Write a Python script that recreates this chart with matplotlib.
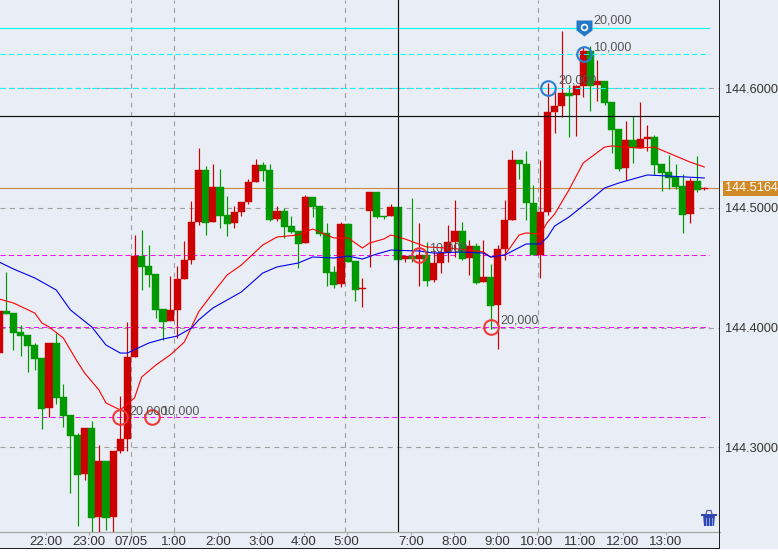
import numpy as np
import matplotlib
matplotlib.use('Agg')
import matplotlib.pyplot as plt
from matplotlib.patches import Rectangle, Polygon
from matplotlib.lines import Line2D

plt.rcParams['font.family'] = ['Liberation Sans', 'DejaVu Sans']

BASE = 144.0

# prices are stored minus BASE
opens = [.3787, .4138, .4122, .3963, .3938, .3854, .3746, .3328, .3871, .3420,
         .3270, .3103, .2777, .3161, .2418, .2886, .2418, .2969, .3069, .3754,
         .4597, .4514, .4447, .4155, .4055, .4147, .4405, .4564, .4881, .5315,
         .4881, .5174, .4940, .4873, .4965, .5048, .5215, .5357, .5315, .4906,
         .4973, .4848, .4806, .4706, .5090, .5015, .4790, .4464, .4364, .4865,
         .4556, .4325, .4973, .5132, .4931, .4931, .5007, .4572, .4597, .4572,
         .4606, .4397, .4539, .4622, .4714, .4806, .4581, .4681, .4380, .4422,
         .4188, .4656, .4898, .5399, .5366, .5040, .4606, .4965, .5800, .5850,
         .5958, .5942, .6017, .6309, .6025, .6059, .5883, .5658, .5332, .5566,
         .5499, .5574, .5591, .5366, .5299, .5257, .5182, .4948, .5224, .5160]
closes = [.4138, .4113, .3954, .3929, .3846, .3737, .3320, .3871, .3412, .3261,
          .3094, .2769, .3161, .2410, .2886, .2410, .2969, .3069, .3754, .4597,
          .4506, .4439, .4147, .4046, .4147, .4405, .4564, .4881, .5315, .4873,
          .5174, .4931, .4865, .4965, .5048, .5215, .5357, .5307, .4898, .4973,
          .4840, .4798, .4698, .5090, .5007, .4781, .4455, .4355, .4865, .4547,
          .4314, .4330, .5132, .4923, .4923, .5007, .4564, .4597, .4572, .4606,
          .4389, .4539, .4622, .4714, .4806, .4572, .4681, .4372, .4422, .4180,
          .4656, .4898, .5399, .5366, .5040, .4606, .4965, .5800, .5850, .5958,
          .5933, .6017, .6309, .6017, .6059, .5875, .5650, .5324, .5566, .5499,
          .5574, .5591, .5357, .5290, .5249, .5174, .4940, .5224, .5149, .5164]
highs = [.4138, .4464, .4122, .4021, .3938, .3871, .3746, .3871, .3954, .3529,
         .3270, .3119, .3161, .3220, .3019, .2886, .2969, .3428, .4046, .4773,
         .4815, .4689, .4447, .4155, .4430, .4514, .4723, .5057, .5499, .5349,
         .5366, .5324, .5098, .5015, .5048, .5240, .5407, .5382, .5366, .5015,
         .4998, .4931, .4806, .5107, .5090, .5015, .4873, .4514, .4881, .4873,
         .4556, .4414, .5132, .5132, .4931, .5032, .5007, .4597, .5082, .4873,
         .4714, .4647, .4681, .4856, .5065, .4881, .4731, .4706, .4731, .4531,
         .4689, .5065, .5483, .5399, .5474, .5190, .5399, .6042, .6000, .6476,
         .6025, .6025, .6343, .6351, .6234, .6059, .5883, .5658, .5725, .5766,
         .5883, .5691, .5608, .5366, .5441, .5366, .5282, .5249, .5432, .5174]
lows = [.3787, .4113, .3813, .3762, .3629, .3646, .3153, .3253, .3362, .3170,
        .2618, .2343, .2727, .2293, .2293, .2310, .2293, .2953, .2969, .3754,
        .4314, .4338, .4080, .3896, .4055, .3913, .4405, .4531, .4856, .4773,
        .4881, .4831, .4764, .4831, .4931, .5032, .5215, .5224, .4890, .4890,
        .4748, .4790, .4497, .4706, .4923, .4764, .4347, .4330, .4338, .4547,
        .4222, .4171, .4506, .4915, .4906, .4931, .4531, .4547, .4547, .4347,
        .4347, .4380, .4455, .4547, .4589, .4564, .4439, .4364, .4380, .3988,
        .3821, .4564, .4898, .5240, .4898, .4606, .4414, .4940, .5624, .5758,
        .5591, .5599, .5925, .5808, .5892, .5858, .5457, .5307, .5232, .5374,
        .5499, .5474, .5274, .5140, .5157, .5157, .4790, .4873, .5132, .5149]

red_ma_idx = [0, 2, 5, 6, 7, 9, 11, 12, 14, 15, 17, 19, 20, 22, 24, 26, 27, 28,
              30, 32, 34, 37, 39, 42, 44, 47, 49, 51, 52, 54, 55, 57, 60, 63, 66,
              68, 69, 71, 73, 74, 76, 77, 78, 80, 82, 85, 86, 90, 92, 94, 97, 99]
red_ma = [.4238, .4205, .4121, .4038, .4005, .3913, .3712, .3620, .3479, .3370,
          .3312, .3412, .3587, .3687, .3771, .3879, .4005, .4130, .4288, .4439,
          .4522, .4689, .4756, .4773, .4823, .4748, .4748, .4664, .4706, .4739,
          .4773, .4739, .4673, .4664, .4647, .4631, .4589, .4606, .4773, .4790,
          .4781, .4881, .4948, .5149, .5374, .5507, .5516, .5499, .5507, .5457,
          .5382, .5341]
blue_ma_idx = [0, 2, 5, 8, 10, 13, 15, 17, 18, 21, 23, 25, 27, 28, 30, 34, 37, 39,
               42, 44, 47, 49, 51, 53, 55, 59, 61, 65, 68, 69, 71, 74, 76, 77, 78,
               80, 83, 85, 87, 91, 94, 99]
blue_ma = [.4547, .4489, .4414, .4314, .4147, .4005, .3854, .3787, .3787, .3871,
           .3904, .3929, .3996, .4063, .4163, .4297, .4455, .4506, .4539, .4589,
           .4581, .4597, .4572, .4614, .4647, .4639, .4622, .4631, .4622, .4589,
           .4606, .4698, .4698, .4756, .4848, .4923, .5065, .5165, .5207, .5274,
           .5265, .5249]

tick_pos = [6.57, 12.54, 18.51, 24.54, 30.72, 36.76, 42.8, 48.8, 57.8, 63.86,
            69.9, 75.5, 81.55, 87.6, 93.6]
tick_labels = ['22:00', '23:00', '07/05', '1:00', '2:00', '3:00', '4:00', '5:00',
               '7:00', '8:00', '9:00', '10:00', '11:00', '12:00', '13:00']
grid_x = [18.51, 24.54, 48.6, 75.6]
price_ticks = [144.3, 144.4, 144.5, 144.6]
price_labels = ['144.3000', '144.4000', '144.5000', '144.6000']

last_price = 144.5164
cross_x, cross_y = 56.0, 144.5766
magenta_levels = [144.4606, 144.4005, 144.3253]
cyan_levels = [144.6284, 144.6000]
cyan_solid = 144.6501

# trades: candle index, price
red_trades = [(16.96, 144.3253), (21.45, 144.3253), (58.95, 144.4606), (69.05, 144.4005)]
blue_trades = [(77.05, 144.6000), (82.1, 144.6284)]
pin = (82.1, 144.6500)
trade_labels = [(18.2, 144.330, '20,000'), (22.7, 144.330, '10,000'),
                (60.3, 144.466, '10,000'), (70.3, 144.406, '20,000'),
                (78.45, 144.606, '20,000'), (83.4, 144.634, '10,000'),
                (83.4, 144.656, '20,000')]

BG = '#e9edf5'
UP = '#cc0000'
DOWN = '#009900'
W, H = 778, 554

fig = plt.figure(figsize=(W / 100, H / 100), dpi=100, facecolor=BG)
ax = fig.add_axes([0, 1 - 531.5 / H, 719.5 / W, 531.5 / H], facecolor=BG)
ax.set_xlim(0.112, 101.14)
ax.set_ylim(144.2297, 144.6735)

o = BASE + np.array(opens)
c = BASE + np.array(closes)
h = BASE + np.array(highs)
l = BASE + np.array(lows)
x = np.arange(len(o))
colors = [UP if b >= a else DOWN for a, b in zip(o, c)]

for lv in price_ticks:
    ax.axhline(lv, color='#a0a0a0', lw=0.8, ls=(0, (4.5, 4)), zorder=1)
for gx in grid_x:
    ax.axvline(gx, color='#a0a0a0', lw=0.8, ls=(0, (4.5, 4)), zorder=1)
ax.axhline(last_price, color='#c98c45', lw=0.8, zorder=1.5)

line_end = 709 / 719.5
for lv in magenta_levels:
    ax.axhline(lv, xmax=line_end, color='#f010f0', lw=0.75, ls=(0, (5, 3)), zorder=2)

ax.vlines(x, l, h, colors=colors, lw=0.85, zorder=3)
ax.bar(x, c - o, bottom=o, width=1.0, color=colors, edgecolor=colors, lw=0.3, zorder=4)

ax.axhline(cyan_solid, xmax=line_end, color='#00ffff', lw=0.8, zorder=5)
for lv in cyan_levels:
    ax.axhline(lv, xmax=line_end, color='#00ffff', lw=0.75, ls=(0, (5, 3)), zorder=5)

ax.plot(red_ma_idx, BASE + np.array(red_ma), color='#ff0000', lw=0.8, zorder=6)
ax.plot(blue_ma_idx, BASE + np.array(blue_ma), color='#0000ee', lw=0.8, zorder=6)

ax.axhline(cross_y, color='#111111', lw=0.85, zorder=7)
ax.axvline(cross_x, color='#111111', lw=0.85, zorder=7)

for tx, ty in red_trades:
    ax.plot(tx, ty, 'o', ms=10.5, mfc='none', mec='#f03838', mew=1.5, zorder=8)
for tx, ty in blue_trades:
    ax.plot(tx, ty, 'o', ms=10.5, mfc='none', mec='#2a7fd0', mew=1.5, zorder=8)

shield = [(-1, 1), (1, 1), (1, -0.25), (0, -1), (-1, -0.25), (-1, 1)]
ax.plot(pin[0], pin[1], marker=shield, ms=11.5, color='#1f78c8', mew=0, zorder=8)
ax.plot(pin[0], pin[1] + 0.0008, 'o', ms=4.2, mfc='#1f78c8', mec='white', mew=1.2, zorder=9)

for tx, ty, s in trade_labels:
    ax.text(tx, ty, s, fontsize=9, color='#555555', va='center', ha='left', zorder=10)

for s in ax.spines.values():
    s.set_visible(False)
ax.spines['bottom'].set_visible(True)
ax.spines['bottom'].set_color('#a8a8a8')
ax.spines['bottom'].set_linewidth(0.9)
ax.set_xticks(tick_pos)
ax.set_xticklabels(tick_labels, fontsize=9.5, color='#333333')
ax.tick_params(axis='x', length=2, width=0.8, color='#a8a8a8', pad=1.5)
ax.yaxis.tick_right()
ax.set_yticks(price_ticks)
ax.set_yticklabels(price_labels, fontsize=9.2, color='#333333')
ax.tick_params(axis='y', length=0, pad=4)
ax.text(1.007, last_price, '144.5164', transform=ax.get_yaxis_transform(),
        fontsize=9.2, color='white', va='center', ha='left', zorder=11, clip_on=False,
        bbox=dict(boxstyle='square,pad=0.12', fc='#d08a28', ec='none'))


def px(xp, yp):
    return xp / W, 1 - yp / H


# frame and white strip at the bottom, drawn over everything else
fig.add_artist(Rectangle(px(0, 554), 1, 5.5 / H, fc='white', ec='none',
                         transform=fig.transFigure, zorder=20))
fig.add_artist(Rectangle(px(0, 549), 720 / W, 1.5 / H, fc='#222222', ec='none',
                         transform=fig.transFigure, zorder=21))
fig.add_artist(Rectangle(px(718.8, 548), 1.3 / W, 548 / H, fc='#222222', ec='none',
                         transform=fig.transFigure, zorder=21))

# trash icon
trash = '#2f45b0'
fig.add_artist(Polygon([px(703, 514), px(715, 514), px(714, 526), px(704, 526)], fc=trash, ec='none',
                       transform=fig.transFigure, zorder=22))
fig.add_artist(Rectangle(px(701, 516), 16 / W, 2 / H, fc=trash, ec='none',
                         transform=fig.transFigure, zorder=22))
fig.add_artist(Line2D([706 / W, 707 / W, 711 / W, 712 / W],
                      [1 - 514 / H, 1 - 510.5 / H, 1 - 510.5 / H, 1 - 514 / H], color='#555f90', lw=0.9, zorder=22))
for sx in (706, 709, 712):
    fig.add_artist(Line2D([sx / W, sx / W], [1 - 518 / H, 1 - 525 / H], color='#8fa0e8', lw=0.7, zorder=23))

fig.savefig('out.png', dpi=100, facecolor=BG)
